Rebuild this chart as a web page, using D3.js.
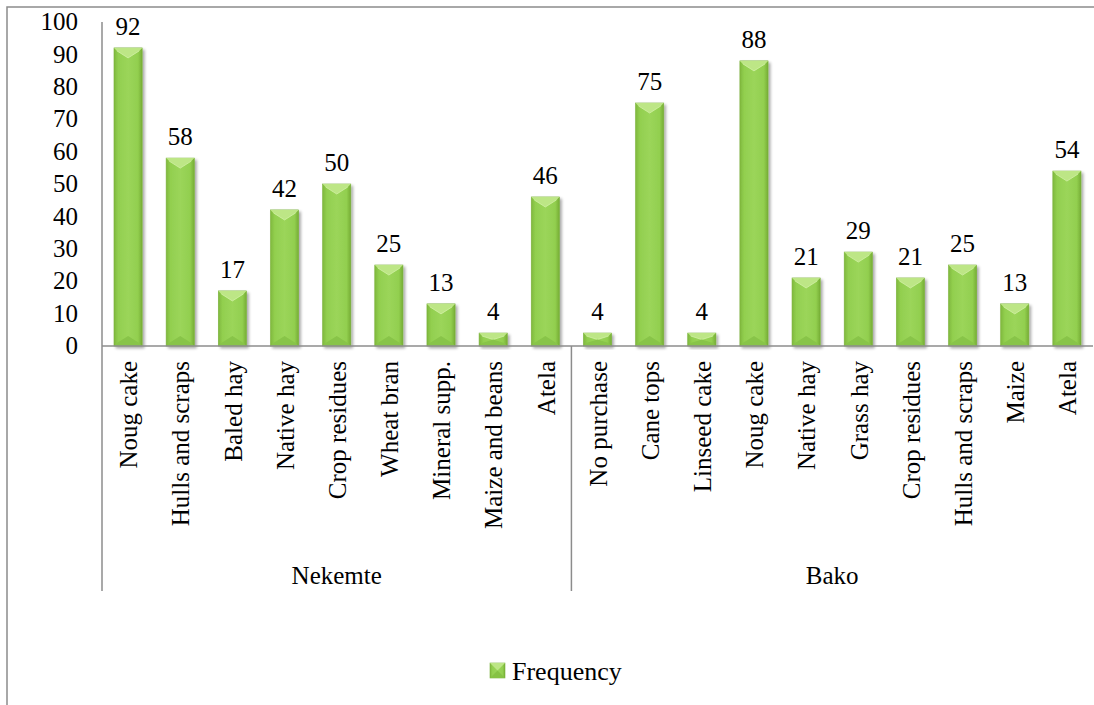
<!DOCTYPE html>
<html><head><meta charset="utf-8">
<script src="https://cdn.jsdelivr.net/npm/d3@7/dist/d3.min.js"></script>
<style>body{margin:0;background:#fff;}svg{display:block;}</style>
</head><body><svg id="c" width="1094" height="705"></svg>
<script>
const groups = ["Nekemte", "Bako"];
const nekemteCats = ["Noug cake","Hulls and scraps","Baled hay","Native hay","Crop residues","Wheat bran","Mineral supp.","Maize and beans","Atela"];
const nekemteVals = [92,58,17,42,50,25,13,4,46];
const bakoCats = ["No purchase","Cane tops","Linseed cake","Noug cake","Native hay","Grass hay","Crop residues","Hulls and scraps","Maize","Atela"];
const bakoVals = [4,75,4,88,21,29,21,25,13,54];
const yTicks = [0,10,20,30,40,50,60,70,80,90,100];
const seriesName = "Frequency";

(function(){
const FF = "Liberation Serif";
const data = [];
nekemteCats.forEach((c,i)=>data.push({g:"Nekemte",cat:c,v:nekemteVals[i],key:"N"+i}));
bakoCats.forEach((c,i)=>data.push({g:"Bako",cat:c,v:bakoVals[i],key:"B"+i}));

const svg = d3.select("#c").attr("font-family",FF);
const pL=102, pR=1093, pT=22, pB=346, catBottom=591;
const x = d3.scaleBand().domain(data.map(d=>d.key)).range([pL,pR]).paddingInner(0.46).paddingOuter(0.23);
const y = d3.scaleLinear().domain([0,100]).range([pB,pT]);

const defs = svg.append("defs");
const g1 = defs.append("linearGradient").attr("id","bg").attr("x1","0").attr("x2","1").attr("y1","0").attr("y2","0");
g1.append("stop").attr("offset","0").attr("stop-color","#7fb83d");
g1.append("stop").attr("offset","0.15").attr("stop-color","#92cf4f");
g1.append("stop").attr("offset","0.5").attr("stop-color","#9bd55a");
g1.append("stop").attr("offset","0.85").attr("stop-color","#92cf4f");
g1.append("stop").attr("offset","1").attr("stop-color","#76ad35");
const f = defs.append("filter").attr("id","sh").attr("x","-20%").attr("y","-20%").attr("width","150%").attr("height","150%");
f.append("feGaussianBlur").attr("in","SourceAlpha").attr("stdDeviation","1.6");
f.append("feOffset").attr("dx","2").attr("dy","2").attr("result","ob");
f.append("feComponentTransfer").append("feFuncA").attr("type","linear").attr("slope","0.35");
const fm = f.append("feMerge"); fm.append("feMergeNode"); fm.append("feMergeNode").attr("in","SourceGraphic");

// outer frame
svg.append("rect").attr("x",7).attr("y",7).attr("width",1100).attr("height",710)
  .attr("fill","none").attr("stroke","#8c8c8c").attr("stroke-width",1.5);

// bars
const bars = svg.append("g").selectAll("g").data(data).join("g").attr("filter","url(#sh)");
bars.each(function(d){
  const gg=d3.select(this);
  const x0=x(d.key), w=x.bandwidth(), x1=x0+w, y0=y(d.v), y1=y(0), xc=x0+w/2;
  const h=y1-y0, bv=Math.min(10,h/2);
  gg.append("rect").attr("x",x0).attr("y",y0).attr("width",w).attr("height",h).attr("fill","url(#bg)").attr("stroke","#79b139").attr("stroke-width",0.6);
  gg.append("path").attr("d",`M${x0},${y0}L${x1},${y0}L${x1-3},${y0+3}L${xc},${y0+bv}L${x0+3},${y0+3}Z`).attr("fill","#bde686");
  gg.append("path").attr("d",`M${x0+3},${y0+3}L${xc},${y0+bv}L${x1-3},${y0+3}`).attr("fill","none").attr("stroke","#d2f0a6").attr("stroke-width",0.8);
  gg.append("path").attr("d",`M${x0},${y1}L${x1},${y1}L${x1-3},${y1-3}L${xc},${y1-bv}L${x0+3},${y1-3}Z`).attr("fill","#88c448");
});

// value labels
svg.append("g").selectAll("text").data(data).join("text")
  .attr("x",d=>x(d.key)+x.bandwidth()/2).attr("y",d=>y(d.v)-13)
  .attr("text-anchor","middle").attr("font-size",25).attr("font-family",FF).attr("fill","#000").text(d=>d.v);

// axes
const axisColor="#8c8c8c";
svg.append("line").attr("x1",pL).attr("x2",pL).attr("y1",pT).attr("y2",catBottom).attr("stroke",axisColor).attr("stroke-width",1.5);
svg.append("line").attr("x1",pL).attr("x2",pR).attr("y1",pB).attr("y2",pB).attr("stroke",axisColor).attr("stroke-width",1.5);
const sepLine = (x("N8")+x.bandwidth()+x("B0"))/2;
svg.append("line").attr("x1",sepLine).attr("x2",sepLine).attr("y1",pB).attr("y2",catBottom).attr("stroke",axisColor).attr("stroke-width",1.5);

svg.append("g").selectAll("text").data(yTicks).join("text")
  .attr("x",78).attr("y",d=>y(d)).attr("dy","0.33em").attr("text-anchor","end").attr("font-size",25).attr("font-family",FF).attr("fill","#000").text(d=>d);

// category labels
svg.append("g").selectAll("text").data(data).join("text")
  .attr("transform",d=>`translate(${x(d.key)+x.bandwidth()/2+1},361) rotate(-90)`)
  .attr("dy","0.33em").attr("text-anchor","end").attr("font-size",25).attr("font-family",FF).attr("fill","#000").text(d=>d.cat);

// group labels
const gInfo=[{n:groups[0],a:pL,b:sepLine},{n:groups[1],a:sepLine,b:pR}];
svg.append("g").selectAll("text").data(gInfo).join("text")
  .attr("x",d=>(d.a+d.b)/2).attr("y",584).attr("text-anchor","middle").attr("font-size",25).attr("font-family",FF).attr("fill","#000").text(d=>d.n);

// legend
const lg=svg.append("g").attr("transform","translate(490,663)");
lg.append("rect").attr("width",15).attr("height",15).attr("fill","url(#bg)").attr("stroke","#79b139").attr("stroke-width",0.6);
lg.append("path").attr("d","M0,0L15,0L7.5,7.5Z").attr("fill","#bde686");
lg.append("path").attr("d","M0,15L15,15L7.5,7.5Z").attr("fill","#86c244");
lg.append("text").attr("x",22).attr("y",17).attr("font-size",26).attr("font-family",FF).attr("fill","#000").text(seriesName);
})();
</script></body></html>
